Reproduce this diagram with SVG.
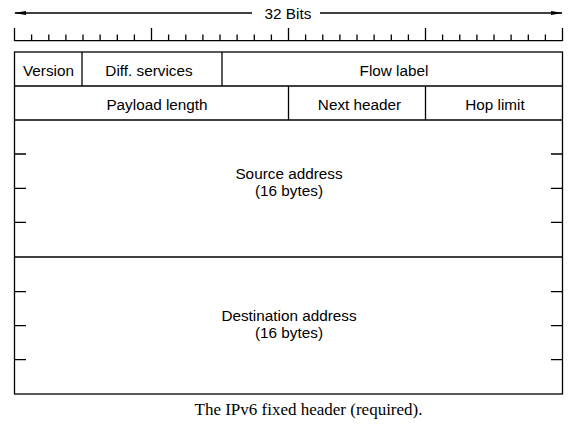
<svg xmlns="http://www.w3.org/2000/svg" width="573" height="424" viewBox="0 0 573 424">
<style>
.l{stroke:#000;stroke-width:1.3;fill:none}
.t{font-family:"Liberation Sans",Arial,sans-serif;font-size:15.3px;fill:#000;text-anchor:middle}
.c{font-family:"Liberation Serif","Times New Roman",serif;font-size:17px;fill:#000;text-anchor:middle}
</style>
<defs>
<marker id="ah" markerWidth="12" markerHeight="6" refX="11" refY="3" orient="auto-start-reverse" markerUnits="userSpaceOnUse">
<path d="M0,1 L12,3 L0,5 Z" fill="#000"/>
</marker>
</defs>
<g id="ruler">
<line class="l" x1="252" y1="13" x2="15" y2="13" marker-end="url(#ah)"/>
<line class="l" x1="320" y1="13" x2="562" y2="13" marker-end="url(#ah)"/>
<text class="t" x="288" y="18.5">32 Bits</text>
<line class="l" x1="14.5" y1="40.7" x2="562.5" y2="40.7"/>
<path class="l" d="M14.5,28V41 M31.6,34.5V41 M48.8,34.5V41 M65.9,34.5V41 M83,34.5V41 M100.1,34.5V41 M117.3,34.5V41 M134.4,34.5V41 M151.5,28V41 M168.6,34.5V41 M185.8,34.5V41 M202.9,34.5V41 M220,34.5V41 M237.1,34.5V41 M254.3,34.5V41 M271.4,34.5V41 M288.5,28V41 M305.6,34.5V41 M322.8,34.5V41 M339.9,34.5V41 M357,34.5V41 M374.1,34.5V41 M391.3,34.5V41 M408.4,34.5V41 M425.5,28V41 M442.6,34.5V41 M459.8,34.5V41 M476.9,34.5V41 M494,34.5V41 M511.1,34.5V41 M528.3,34.5V41 M545.4,34.5V41 M562.5,28V41"/>
</g>
<g id="frame">
<rect class="l" x="14.5" y="52" width="548" height="342"/>
</g>
<g id="version"><line class="l" x1="82" y1="52" x2="82" y2="86"/><text class="t" x="48.5" y="75.5">Version</text></g>
<g id="diff-services"><line class="l" x1="222" y1="52" x2="222" y2="86"/><text class="t" x="149" y="75.5">Diff. services</text></g>
<g id="flow-label"><line class="l" x1="14.5" y1="86" x2="562.5" y2="86"/><text class="t" x="394" y="75.5">Flow label</text></g>
<g id="payload-length"><line class="l" x1="288.5" y1="86" x2="288.5" y2="120"/><text class="t" x="157" y="109.5">Payload length</text></g>
<g id="next-header"><line class="l" x1="425.5" y1="86" x2="425.5" y2="120"/><text class="t" x="359.5" y="109.5">Next header</text></g>
<g id="hop-limit"><line class="l" x1="14.5" y1="120" x2="562.5" y2="120"/><text class="t" x="495" y="109.5">Hop limit</text></g>
<g id="source-address">
<path class="l" d="M14.5,154H26 M14.5,188.3H26 M14.5,222.3H26 M551,154H562.5 M551,188.3H562.5 M551,222.3H562.5"/>
<text class="t" x="289" y="178.5">Source address</text>
<text class="t" x="289" y="195.5">(16 bytes)</text>
</g>
<g id="destination-address">
<line class="l" x1="14.5" y1="257" x2="562.5" y2="257"/>
<path class="l" d="M14.5,291.7H26 M14.5,325.7H26 M14.5,359.7H26 M551,291.7H562.5 M551,325.7H562.5 M551,359.7H562.5"/>
<text class="t" x="289" y="320.5">Destination address</text>
<text class="t" x="289" y="337.5">(16 bytes)</text>
</g>
<text class="c" x="308.5" y="414.5">The IPv6 fixed header (required).</text>
</svg>
